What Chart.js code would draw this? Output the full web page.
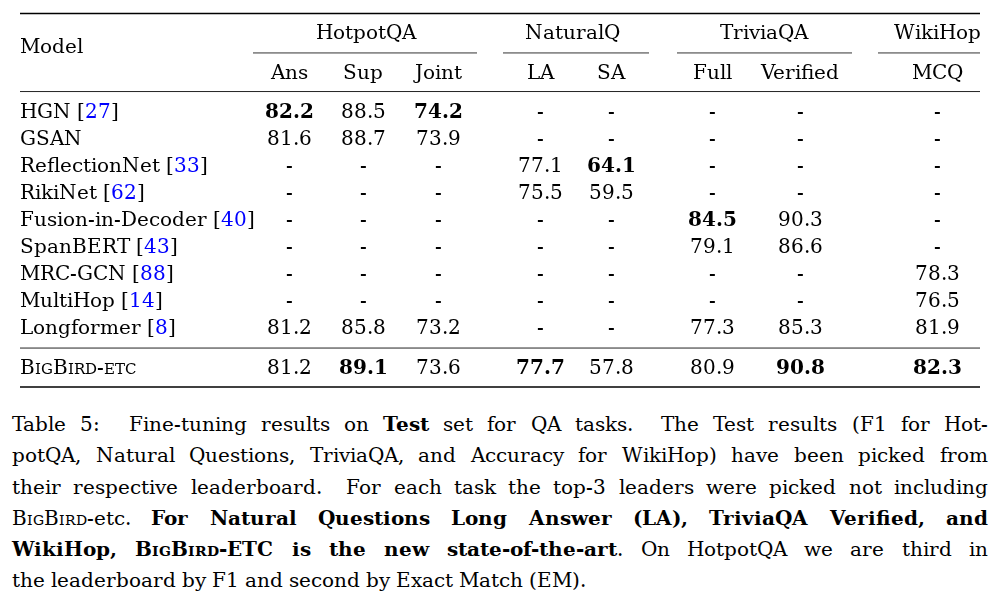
<!DOCTYPE html>
<html>
<head>
<meta charset="utf-8">
<title>Table 5</title>
<script src="https://cdn.jsdelivr.net/npm/chart.js@4.4.1/dist/chart.umd.min.js"></script>
<style>
  @font-face { font-family: "TablaSerif"; font-weight: 400;
    src: local("DejaVu Serif"), local("DejaVuSerif"), local("Liberation Serif"), local("LiberationSerif"); }
  @font-face { font-family: "TablaSerif"; font-weight: 700;
    src: local("DejaVu Serif Bold"), local("DejaVuSerif-Bold"), local("Liberation Serif Bold"), local("LiberationSerif-Bold"); }
  body { margin: 0; background: #fff; }
  #contenedor { position: relative; width: 1005px; height: 599px; overflow: hidden; }
  #tabla { position: absolute; left: 0; top: 0; }
  #leyenda { position: absolute; left: 12px; top: 409px; width: 976px;
    font-family: "TablaSerif", "DejaVu Serif", serif; font-size: 20px; line-height: 31.3px; color: #000; }
  #leyenda .linea { white-space: nowrap; text-align: left; }
  .sc { font-variant: small-caps; }
</style>
</head>
<body>
<div id="contenedor">
  <canvas id="tabla" width="1005" height="400"></canvas>
  <div id="leyenda">
    <div class="linea">Table 5:&nbsp; Fine-tuning results on <b>Test</b> set for QA tasks.&nbsp; The Test results (F1 for Hot-</div>
    <div class="linea">potQA, Natural Questions, TriviaQA, and Accuracy for WikiHop) have been picked from</div>
    <div class="linea">their respective leaderboard.&nbsp; For each task the top-3 leaders were picked not including</div>
    <div class="linea"><span class="sc">BigBird</span>-etc. <b>For Natural Questions Long Answer (LA), TriviaQA Verified, and</b></div>
    <div class="linea"><b>WikiHop, <span class="sc">BigBird-ETC</span> is the new state-of-the-art</b>. On HotpotQA we are third in</div>
    <div class="linea ultima">the leaderboard by F1 and second by Exact Match (EM).</div>
  </div>
</div>
<script>
// Datos de la tabla
const modelos = ['HGN', 'GSAN', 'ReflectionNet', 'RikiNet', 'Fusion-in-Decoder', 'SpanBERT',
                 'MRC-GCN', 'MultiHop', 'Longformer', 'BigBird-etc'];
const citas = [27, null, 33, 62, 40, 43, 88, 14, 8, null];
const grupos = ['HotpotQA', 'NaturalQ', 'TriviaQA', 'WikiHop'];
const columnas = ['Ans', 'Sup', 'Joint', 'LA', 'SA', 'Full', 'Verified', 'MCQ'];

const ans      = [82.2, 81.6, null, null, null, null, null, null, 81.2, 81.2];
const sup      = [88.5, 88.7, null, null, null, null, null, null, 85.8, 89.1];
const joint    = [74.2, 73.9, null, null, null, null, null, null, 73.2, 73.6];
const la       = [null, null, 77.1, 75.5, null, null, null, null, null, 77.7];
const sa       = [null, null, 64.1, 59.5, null, null, null, null, null, 57.8];
const full     = [null, null, null, null, 84.5, 79.1, null, null, 77.3, 80.9];
const verified = [null, null, null, null, 90.3, 86.6, null, null, 85.3, 90.8];
const mcq      = [null, null, null, null, null, null, 78.3, 76.5, 81.9, 82.3];
const valores = [ans, sup, joint, la, sa, full, verified, mcq];

// Disposicion (en unidades de las escalas: x en columnas, y en filas)
const xModelo = 20;
const xColumnas = [289, 363, 438, 540, 611, 712, 800, 937];
const xGrupos = [366, 572, 764, 937];
const lineasGrupos = [[253, 477], [503, 649], [677, 852], [878, 980]];
const reglaIzq = 20, reglaDer = 980;
const yGrupo = -2.94, yModeloCab = -2.41, ySub = -1.43;
const yReglaSup = -3.61, yReglaGrupo = -2.15, yReglaCab = -0.72, yReglaMedia = 8.78, yReglaInf = 10.22;
const fila = i => (i < 9 ? i : 9.48);

const fuente = '"TablaSerif", "DejaVu Serif", serif';
const tam = 19.5;
const desfase = 7;   // de centro a linea base

function dibujarVersalitas(ctx, texto, x, y, t, negrita) {
    let cx = x;
    for (const c of texto) {
        const minus = c !== c.toUpperCase();
        ctx.font = `${negrita ? 'bold ' : ''}${minus ? t * 0.78 : t}px ${fuente}`;
        const ch = c.toUpperCase();
        ctx.fillText(ch, cx, y);
        cx += ctx.measureText(ch).width;
    }
}

// Plugin que escribe las celdas y las reglas
const pluginTabla = {
    id: 'pluginTabla',
    afterDatasetsDraw(chart) {
        const ctx = chart.ctx;
        const sx = chart.scales.x, sy = chart.scales.y;
        ctx.save();
        ctx.fillStyle = '#000';
        ctx.textBaseline = 'alphabetic';

        // reglas
        const regla = (y, x1, x2, grosor, color) => {
            const py = sy.getPixelForValue(y);
            ctx.beginPath();
            ctx.strokeStyle = color;
            ctx.lineWidth = grosor;
            ctx.moveTo(sx.getPixelForValue(x1), py);
            ctx.lineTo(sx.getPixelForValue(x2), py);
            ctx.stroke();
        };
        regla(yReglaSup, reglaIzq, reglaDer, 1.6, '#000');
        regla(yReglaCab, reglaIzq, reglaDer, 1, '#222');
        regla(yReglaMedia, reglaIzq, reglaDer, 1, '#222');
        regla(yReglaInf, reglaIzq, reglaDer, 1.6, '#000');
        lineasGrupos.forEach(l => regla(yReglaGrupo, l[0], l[1], 1, '#333'));

        // cabeceras
        ctx.font = `${tam}px ${fuente}`;
        ctx.textAlign = 'left';
        ctx.fillText('Model', sx.getPixelForValue(xModelo), sy.getPixelForValue(yModeloCab) + desfase);
        ctx.textAlign = 'center';
        grupos.forEach((g, k) => {
            ctx.fillText(g, sx.getPixelForValue(xGrupos[k]), sy.getPixelForValue(yGrupo) + desfase);
        });
        columnas.forEach((c, k) => {
            ctx.fillText(c, sx.getPixelForValue(xColumnas[k]), sy.getPixelForValue(ySub) + desfase);
        });

        // celdas
        chart.data.datasets.forEach((ds, d) => {
            const meta = chart.getDatasetMeta(d);
            meta.data.forEach((el, i) => {
                const punto = ds.data[i];
                const by = el.y + desfase;
                if (ds.tipo === 'modelo') {
                    ctx.textAlign = 'left';
                    if (punto.m === 'BigBird-etc') {
                        dibujarVersalitas(ctx, punto.m, el.x, by, tam, false);
                        return;
                    }
                    ctx.font = `${tam}px ${fuente}`;
                    let cx = el.x;
                    const texto = punto.cita ? punto.m + ' [' : punto.m;
                    ctx.fillStyle = '#000';
                    ctx.fillText(texto, cx, by);
                    if (punto.cita) {
                        cx += ctx.measureText(texto).width;
                        ctx.fillStyle = '#0000ff';
                        ctx.fillText(String(punto.cita), cx, by);
                        cx += ctx.measureText(String(punto.cita)).width;
                        ctx.fillStyle = '#000';
                        ctx.fillText(']', cx, by);
                    }
                } else {
                    ctx.textAlign = 'center';
                    ctx.fillStyle = '#000';
                    const negrita = punto.v !== null && punto.v === ds.maximo;
                    ctx.font = `${negrita ? 'bold ' : ''}${tam}px ${fuente}`;
                    ctx.fillText(punto.v === null ? '-' : punto.v.toFixed(1), el.x, by);
                }
            });
        });
        ctx.restore();
    }
};

// Conjuntos de datos: uno por columna mas la columna de modelos
const conjuntos = valores.map((serie, j) => ({
    label: columnas[j],
    tipo: 'valor',
    maximo: Math.max(...serie.filter(v => v !== null)),
    data: serie.map((v, i) => ({ x: xColumnas[j], y: fila(i), v: v })),
    pointRadius: 0
}));
conjuntos.unshift({
    label: 'Model',
    tipo: 'modelo',
    data: modelos.map((m, i) => ({ x: xModelo, y: fila(i), m: m, cita: citas[i] })),
    pointRadius: 0
});

function dibujarTabla() {
    new Chart(document.getElementById('tabla'), {
        type: 'scatter',
        data: { datasets: conjuntos },
        options: {
            responsive: false,
            animation: false,
            devicePixelRatio: 1,
            layout: { padding: 0 },
            plugins: { legend: { display: false }, tooltip: { enabled: false } },
            scales: {
                x: { type: 'linear', display: false, min: 0, max: 1005 },
                y: { type: 'linear', display: false, reverse: true, min: -111 / 27, max: (400 - 111) / 27 }
            }
        },
        plugins: [pluginTabla]
    });
}

// Justificado de la leyenda: ajusta el espacio entre palabras de cada linea
function justificarLeyenda() {
    const anchoLeyenda = 976;
    document.querySelectorAll('#leyenda .linea:not(.ultima)').forEach(linea => {
        linea.style.wordSpacing = '0px';
        const rango = document.createRange();
        rango.selectNodeContents(linea);
        const ancho = rango.getBoundingClientRect().width;
        const espacios = (linea.textContent.match(/[ \u00a0]/g) || []).length;
        if (espacios > 0) {
            linea.style.wordSpacing = ((anchoLeyenda - ancho) / espacios) + 'px';
        }
    });
}

// Espera a la fuente antes de dibujar
Promise.all([
    document.fonts.load(`${tam}px "TablaSerif"`),
    document.fonts.load(`bold ${tam}px "TablaSerif"`)
]).catch(() => null).then(() => {
    dibujarTabla();
    justificarLeyenda();
});
</script>
</body>
</html>
